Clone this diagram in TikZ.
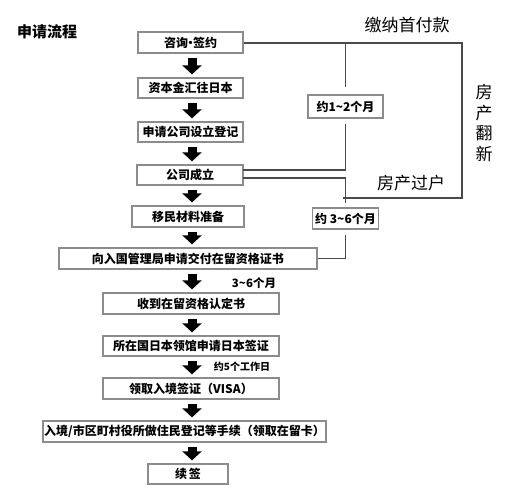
\documentclass[tikz,border=0pt]{standalone}
\usepackage{fontspec}
\setmainfont{Noto Sans CJK SC}
\usetikzlibrary{arrows.meta}
\definecolor{boxgray}{HTML}{8C8C8C}
\definecolor{linegray}{HTML}{4A4A4A}
\tikzset{
  stepbox/.style={draw=boxgray, line width=1.3pt, inner sep=0pt, font=\bfseries\fontsize{12}{14}\selectfont},
  tagbox/.style={draw=boxgray, line width=1.3pt, inner sep=0pt, fill=white, font=\bfseries\fontsize{12}{14}\selectfont},
  bigarrow/.style={line width=9pt, black, -{Triangle[width=19pt,length=9pt]}, shorten <=4pt, shorten >=3pt},
  conn/.style={draw=linegray, line width=1.2pt},
  bigtext/.style={font=\fontsize{17}{20}\selectfont, inner sep=0pt},
}
\begin{document}
\begin{tikzpicture}[x=1pt,y=-1pt]
\useasboundingbox (0,0) rectangle (507,500);
\fill[white] (0,0) rectangle (507,500);
\coordinate (ax) at (192,0);
% title
\node[font=\bfseries\fontsize{15}{18}\selectfont, inner sep=0pt] (title) at (47,32) {申请流程};
% steps
\node[stepbox, minimum width=105pt, minimum height=21pt] (b1) at (190.5,42.5) {咨询\kern-3.5pt·\kern-3.5pt签约};
\node[stepbox, minimum width=105pt, minimum height=20pt] (b2) at (190.5,88) {资本金汇往日本};
\node[stepbox, minimum width=105pt, minimum height=20pt] (b3) at (190.5,132) {申请公司设立登记};
\node[stepbox, minimum width=106pt, minimum height=20pt] (b4) at (190,175) {公司成立};
\node[stepbox, minimum width=112pt, minimum height=21pt] (b5) at (188,216.5) {移民材料准备};
\node[stepbox, minimum width=258pt, minimum height=21pt] (b6) at (188,258.5) {向入国管理局申请交付在留资格证书};
\node[stepbox, minimum width=176pt, minimum height=21pt] (b7) at (191,303.5) {收到在留资格认定书};
\node[stepbox, minimum width=176pt, minimum height=20pt] (b8) at (191,346) {所在国日本领馆申请日本签证};
\node[stepbox, minimum width=176pt, minimum height=21pt] (b9) at (191,388.5) {领取入境签证（VISA）};
\node[stepbox, minimum width=283pt, minimum height=21pt] (b10) at (184.5,431.5) {入境/市区町村役所做住民登记等手续（领取在留卡）};
\node[stepbox, minimum width=80pt, minimum height=20pt] (b11) at (188,474) {续\,签};
% arrows
\foreach \a/\b in {b1/b2,b2/b3,b3/b4,b4/b5,b5/b6,b6/b7,b7/b8,b8/b9,b9/b10,b10/b11}{
  \draw[bigarrow] (\a.south -| ax) -- (\b.north -| ax);
}
% step labels
\node[font=\bfseries\fontsize{11.5}{13}\selectfont, inner sep=0pt] (t1) at (254,283) {3\textasciitilde 6个月};
\node[font=\bfseries\fontsize{10}{12}\selectfont, inner sep=0pt] (t2) at (242,367) {约5个工作日};
% right side
\node[tagbox, minimum width=75pt, minimum height=23pt] (L1) at (345.5,106.5) {约1\textasciitilde 2个月};
\node[tagbox, minimum width=66pt, minimum height=21pt] (L2) at (345.5,218.5) {约 3\textasciitilde 6个月};
\coordinate (tr) at (462,43);
\coordinate (br) at (462,198);
\coordinate (bl) at (343,198);
\coordinate (c4a) at (243,170);
\coordinate (c4b) at (243,178);
\draw[conn] (b1.east |- tr) -- (tr) -- (br) -- (bl);
\draw[conn, shorten <=7pt] (L1.north) -- (L1.north |- tr);
\draw[conn, shorten <=5pt] (L1.south) |- (c4a);
\draw[conn, shorten >=4pt] (c4b) -| (L2.north);
\draw[conn, shorten <=5pt] (L2.south) |- (b6.east);
\node[bigtext] (n1) at (407,25) {缴纳首付款};
\node[bigtext] (n2) at (411,183) {房产过户};
\node[bigtext, align=center, font=\fontsize{17}{20.5}\selectfont] (n3) at (484,123) {房\\产\\翻\\新};
\end{tikzpicture}
\end{document}
